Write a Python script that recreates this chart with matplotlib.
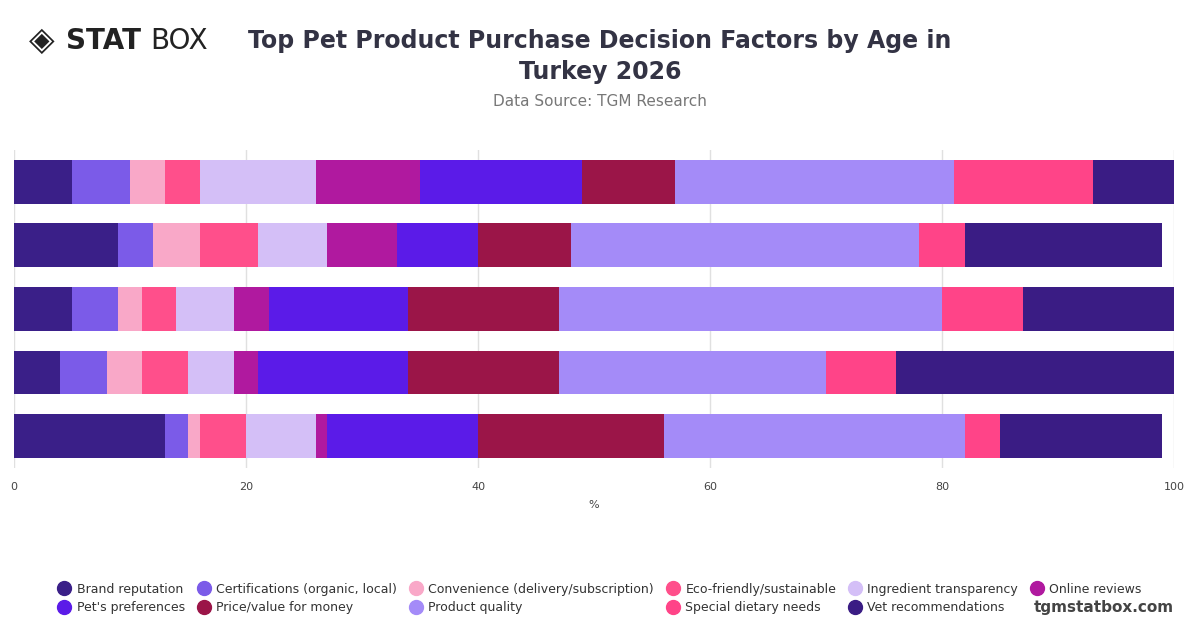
import matplotlib
matplotlib.use("Agg")
import matplotlib.pyplot as plt
from matplotlib.lines import Line2D
import numpy as np

rows = ["A", "B", "C", "D", "E"]
factors = ["Brand reputation", "Certifications (organic, local)", "Convenience (delivery/subscription)",
           "Eco-friendly/sustainable", "Ingredient transparency", "Online reviews", "Pet's preferences",
           "Price/value for money", "Product quality", "Special dietary needs", "Vet recommendations"]
values = [
    [5, 5, 3, 3, 10, 9, 14, 8, 24, 12, 7],
    [9, 3, 4, 5, 6, 6, 7, 8, 30, 4, 17],
    [5, 4, 2, 3, 5, 3, 12, 13, 33, 7, 13],
    [4, 4, 3, 4, 4, 2, 13, 13, 23, 6, 24],
    [13, 2, 1, 4, 6, 1, 13, 16, 26, 3, 14],
]
colors = ["#3a1f88", "#7b5be8", "#f9a8c8", "#ff4f8b", "#d4bff7", "#b0199f",
          "#5b1be8", "#9b1548", "#a48bf8", "#ff4488", "#3a1c84"]

fig = plt.figure(figsize=(12, 6.28), dpi=100)
ax = fig.add_axes([0.0117, 0.255, 0.9667, 0.506])
vals = np.array(values)
y = np.arange(len(rows))
left = np.zeros(len(rows))
for j, f in enumerate(factors):
    ax.barh(y, vals[:, j], left=left, height=0.69, color=colors[j], label=f, zorder=3)
    left += vals[:, j]
ax.set_ylim(len(rows) - 0.5, -0.5)
ax.set_xlim(0, 100)
ax.set_xticks(range(0, 101, 20))
ax.tick_params(axis='x', length=0, labelsize=8, colors="#444444", pad=10)
ax.set_yticks([])
ax.grid(axis='x', color="#e0e0e0", lw=1, zorder=0)
for s in ax.spines.values():
    s.set_visible(False)
ax.set_xlabel("%", fontsize=8, color="#444444", labelpad=6)

fig.text(0.5, 0.91, "Top Pet Product Purchase Decision Factors by Age in\nTurkey 2026",
         ha="center", va="center", fontsize=17, fontweight="bold", color="#333344", linespacing=1.35)
fig.text(0.5, 0.838, "Data Source: TGM Research", ha="center", va="center", fontsize=11, color="#777777")
fig.text(0.055, 0.935, "STAT", ha="left", va="center", fontsize=20, fontweight="bold", color="#222222")
fig.text(0.125, 0.935, "BOX", ha="left", va="center", fontsize=20, color="#222222")
fig.text(0.035, 0.935, "◈", ha="center", va="center", fontsize=24, color="#222222")
fig.text(0.978, 0.033, "tgmstatbox.com", ha="right", va="center", fontsize=11, fontweight="bold", color="#444444")

order = [0, 6, 1, 7, 2, 8, 3, 9, 4, 10, 5]
handles = [Line2D([], [], marker="o", ls="", markersize=10, color=colors[i]) for i in order]
leg = fig.legend(handles, [factors[i] for i in order],
                 loc="center", bbox_to_anchor=(0.5, 0.047), ncol=6, frameon=False, fontsize=9,
                 handlelength=1.0, columnspacing=1.0, handletextpad=0.5,
                 labelcolor="#333333", labelspacing=0.45)
fig.savefig("out.png", dpi=100)
